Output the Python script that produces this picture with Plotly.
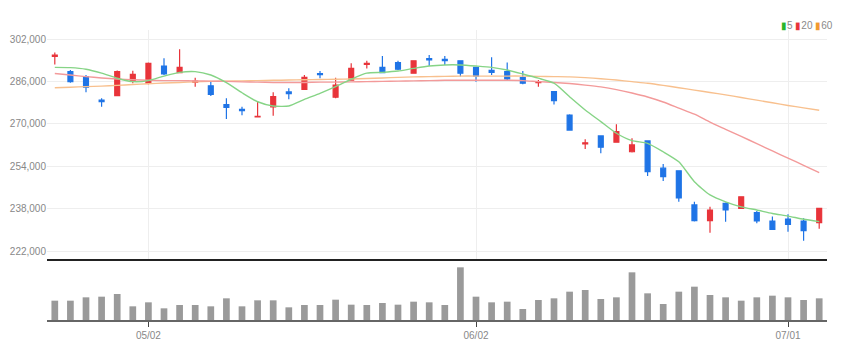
import plotly.graph_objects as go

# ---------------- data ----------------
dates = ["2022-04-22", "2022-04-25", "2022-04-26", "2022-04-27", "2022-04-28", "2022-04-29",
         "2022-05-02", "2022-05-03", "2022-05-04", "2022-05-06", "2022-05-09", "2022-05-10",
         "2022-05-11", "2022-05-12", "2022-05-13", "2022-05-16", "2022-05-17", "2022-05-18",
         "2022-05-19", "2022-05-20", "2022-05-23", "2022-05-24", "2022-05-25", "2022-05-26",
         "2022-05-27", "2022-05-30", "2022-05-31", "2022-06-02", "2022-06-03", "2022-06-07",
         "2022-06-08", "2022-06-09", "2022-06-10", "2022-06-13", "2022-06-14", "2022-06-15",
         "2022-06-16", "2022-06-17", "2022-06-20", "2022-06-21", "2022-06-22", "2022-06-23",
         "2022-06-24", "2022-06-27", "2022-06-28", "2022-06-29", "2022-06-30", "2022-07-01",
         "2022-07-04", "2022-07-05"]

open_ = [295500, 289800, 287900, 279000, 280700, 286400, 285400, 291900, 289400, 285800,
         284400, 277300, 275500, 272700, 276500, 282100, 283100, 289000, 280100, 286600,
         292500, 291400, 293200, 289200, 294700, 294400, 293900, 291400, 290300, 289800,
         287500, 285600, 282200, 273400, 262500, 265500, 263100, 259500, 263600, 253300,
         252300, 239400, 233500, 240000, 238100, 236500, 233300, 234100, 233300, 232700]
high = [297000, 290400, 288500, 279700, 290200, 290100, 293200, 294800, 298200, 287500,
        286000, 279700, 276500, 278700, 282000, 283500, 288500, 290000, 287500, 292900,
        293900, 295700, 293900, 294000, 296100, 295700, 294100, 291600, 295200, 293200,
        290000, 286600, 282400, 273700, 264200, 265700, 269900, 264600, 263800, 254900,
        252500, 240600, 238700, 240300, 242600, 237100, 235000, 235900, 234400, 238300]
low = [292500, 285600, 282000, 276500, 280500, 285400, 285000, 288500, 289200, 284100,
       280600, 271900, 273300, 272700, 273100, 279300, 282900, 287300, 279700, 286400,
       291000, 289300, 290400, 289000, 291900, 292300, 287900, 286000, 288500, 286600,
       285000, 284100, 277400, 267400, 260500, 258900, 262900, 259200, 250300, 248500,
       240600, 233200, 228900, 233100, 237900, 232500, 230000, 229300, 225900, 230400]
close = [296000, 286000, 283900, 278400, 289800, 288800, 292900, 288900, 291400, 286200,
         281200, 276300, 275000, 272900, 280300, 281500, 287600, 288600, 284700, 291000,
         292900, 289400, 290700, 293900, 294200, 293900, 289200, 288100, 289500, 287000,
         285400, 285900, 278800, 267700, 262900, 261200, 267100, 262100, 252000, 250100,
         242100, 233500, 237500, 237500, 242500, 233400, 230200, 232100, 229700, 238100]

volume = [58, 58, 68, 70, 78, 41, 53, 35, 45, 45,
          41, 65, 41, 59, 59, 38, 45, 45, 61, 46,
          45, 51, 46, 55, 53, 45, 158, 70, 53, 55,
          33, 60, 65, 85, 90, 63, 68, 143, 80, 48,
          85, 100, 75, 68, 58, 68, 73, 68, 60, 65]

ma5 = [291400, 291300, 290700, 289200, 287300, 286000, 286400, 288100, 289500, 289800,
       288500, 285600, 281800, 278400, 276800, 276800, 279300, 281600, 284100, 286900,
       289200, 289500, 290000, 291000, 291900, 292300, 292300, 291900, 291400, 290400,
       288900, 287300, 285400, 280300, 275300, 270900, 266500, 263700, 262700, 259500,
       255700, 248200, 243200, 240600, 238700, 237500, 236200, 235200, 234000, 233100]
ma20 = [289100, 288500, 287900, 287400, 287000, 286700, 286500, 286400, 286400, 286300,
        286200, 286100, 285900, 285800, 285700, 285700, 285700, 285800, 285800, 285900,
        286000, 286100, 286200, 286300, 286400, 286500, 286500, 286500, 286500, 286500,
        286400, 286000, 285700, 285300, 284700, 284000, 283000, 281700, 280200, 278300,
        276000, 273700, 270700, 268000, 265300, 262600, 259800, 257100, 254400, 251600]
ma60 = [283700, 283900, 284100, 284300, 284600, 284900, 285200, 285500, 285700, 285900,
        286100, 286200, 286300, 286400, 286500, 286600, 286700, 286800, 286900, 287000,
        287200, 287400, 287600, 287800, 287900, 288000, 288100, 288100, 288100, 288100,
        288100, 288000, 287900, 287800, 287500, 287100, 286600, 286000, 285400, 284600,
        283700, 282800, 281900, 281000, 280000, 279000, 278000, 277000, 276100, 275200]

price_ticks = [222000, 238000, 254000, 270000, 286000, 302000]
x_tick_dates = ["2022-05-02", "2022-06-02", "2022-07-01"]
x_tick_labels = ["05/02", "06/02", "07/01"]
ma_names = ["5", "20", "60"]

# ---------------- styles ----------------
UP = "#e8343a"
DOWN = "#1f74e6"
MA_LINE = {"5": "#86d486", "20": "#f39a9a", "60": "#f8c08e"}
MA_LEGEND = {"5": "#2ab52a", "20": "#e8343a", "60": "#f29a2e"}
FONT = "Liberation Sans Narrow, Arial Narrow, Liberation Sans, Arial, sans-serif"

fig = go.Figure()

for name, vals in [("60", ma60), ("20", ma20), ("5", ma5)]:
    fig.add_trace(go.Scatter(x=dates, y=vals, mode="lines", name=name,
                             line=dict(color=MA_LINE[name], width=1.4, shape="spline", smoothing=0.6),
                             xaxis="x", yaxis="y", hoverinfo="skip", showlegend=False))

fig.add_trace(go.Candlestick(
    x=dates, open=open_, high=high, low=low, close=close,
    increasing=dict(line=dict(color=UP, width=1.2), fillcolor=UP),
    decreasing=dict(line=dict(color=DOWN, width=1.2), fillcolor=DOWN),
    whiskerwidth=0, xaxis="x", yaxis="y", showlegend=False, hoverinfo="skip"))

fig.add_trace(go.Bar(x=dates, y=volume, marker=dict(color="#9a9a9a", line=dict(width=0)),
                     xaxis="x2", yaxis="y2", showlegend=False, hoverinfo="skip"))

legend_text = "&nbsp;".join(
    f'<span style="color:{MA_LEGEND[n]}">▮</span><span style="color:#8a8a8a">{n}</span>'
    for n in ma_names)

fig.update_layout(
    width=828, height=344,
    margin=dict(l=39, r=9, t=22, b=32, autoexpand=False),
    paper_bgcolor="white", plot_bgcolor="white",
    font=dict(family=FONT, size=10, color="#888888"),
    boxgap=0.55, bargap=0.57,
    hovermode=False,
    showlegend=False,
    xaxis=dict(type="category", range=[-0.5, 49.5], domain=[0, 1], anchor="y",
               tickvals=x_tick_dates, showticklabels=False, ticks="",
               showgrid=True, gridcolor="#eeeeee", gridwidth=1, automargin=False,
               showline=True, linecolor="#222222", linewidth=2,
               rangeslider=dict(visible=False), zeroline=False),
    yaxis=dict(domain=[0.2103, 1], range=[218980, 305510], anchor="x",
               tickvals=price_ticks, tickformat=",", ticks="", automargin=False,
               showgrid=True, gridcolor="#eeeeee", gridwidth=1, zeroline=False,
               tickfont=dict(size=10, color="#888888")),
    xaxis2=dict(type="category", range=[-0.5, 49.5], matches="x", anchor="y2",
                tickvals=x_tick_dates, ticktext=x_tick_labels, automargin=False,
                ticks="outside", ticklen=5, tickcolor="#444444", tickwidth=1,
                showgrid=False, showline=True, linecolor="#666666", linewidth=2,
                tickfont=dict(size=10, color="#888888"), zeroline=False),
    yaxis2=dict(domain=[0, 0.2], range=[0, 174], anchor="x2", automargin=False,
                showticklabels=False, showgrid=False, zeroline=False, ticks=""),
    annotations=[dict(text=legend_text, xref="paper", yref="paper", x=1, y=1.017,
                      xanchor="right", yanchor="middle", xshift=8, showarrow=False,
                      font=dict(size=10, family=FONT))],
)

fig.write_html("out.html")
